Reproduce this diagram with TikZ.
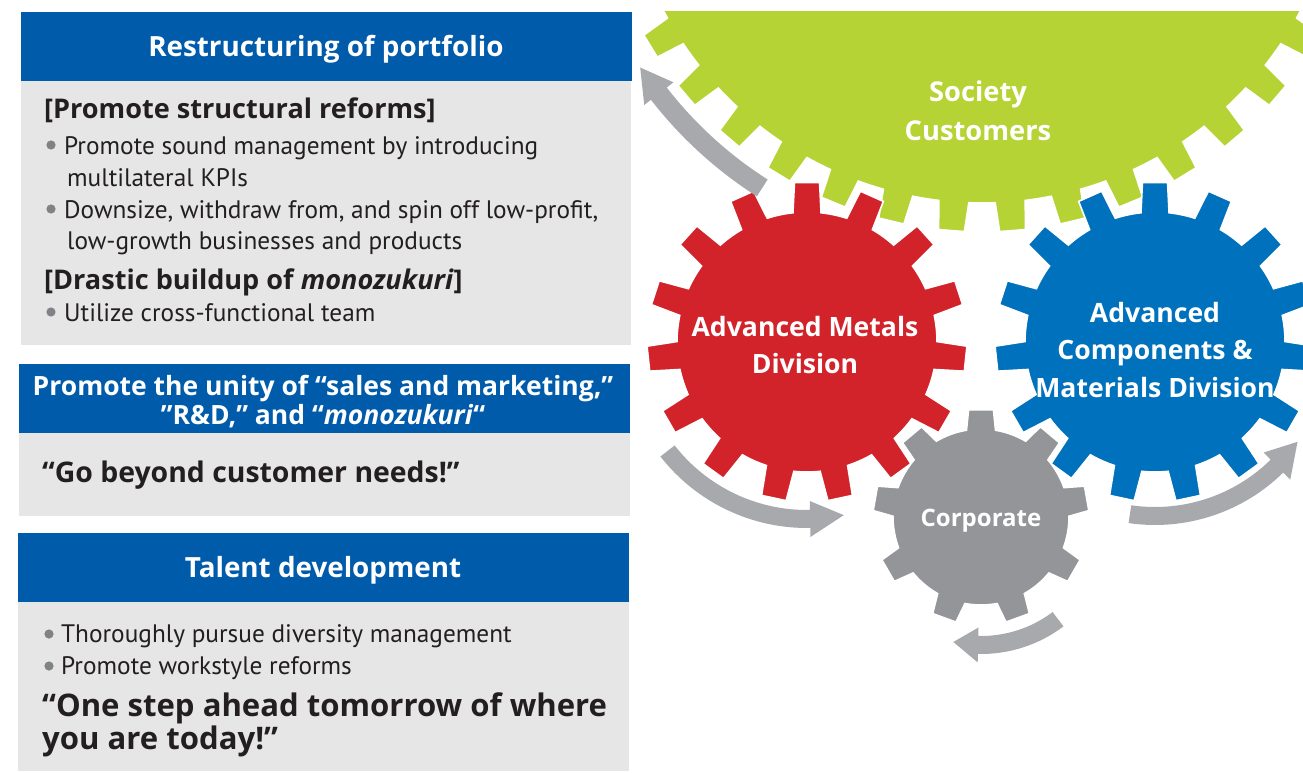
\documentclass[tikz,border=0pt]{standalone}
\usepackage{fontspec}
\setmainfont{PT Sans}
\newfontfamily\strongfont{Open Sans}

\definecolor{headblue}{HTML}{005BAA}
\definecolor{panelgray}{HTML}{E6E6E6}
\definecolor{darktext}{HTML}{231F20}
\definecolor{bulletgray}{HTML}{808285}
\definecolor{geargreen}{HTML}{B5D334}
\definecolor{gearred}{HTML}{D2232A}
\definecolor{gearblue}{HTML}{0071BC}
\definecolor{geargray}{HTML}{939598}
\definecolor{arrowgray}{HTML}{A7A9AC}

% gear: colour, cx, cy, tip radius, root radius, teeth, phase, tip half-angle, base half-angle
\newcommand{\gearshape}[9]{%
  \pgfmathsetmacro{\gpitch}{360/#6}%
  \begin{scope}[shift={(#2,#3)}]
    \fill[#1, draw=white, line width=1.6pt, line join=miter]
      ({#7-#9}:#5)
      \foreach \k [evaluate=\k as \a using {#7+(\k-1)*\gpitch}] in {1,...,#6} {
        -- ({\a-#8}:#4) -- ({\a+#8}:#4) -- ({\a+#9}:#5)
        arc[start angle={\a+#9}, end angle={\a+\gpitch-#9}, radius=#5]
      } -- cycle;
  \end{scope}}

% curved arrow round a gear: cx, cy, mid radius, band half width, tail angle, head base angle, tip angle, head half width
\newcommand{\bendarrow}[8]{%
  \begin{scope}[shift={(#1,#2)}]
    \fill[arrowgray]
      ({#5}:{#3+#4}) arc[start angle=#5, end angle=#6, radius={#3+#4}]
      -- ({#6}:{#3+#8}) -- ({#7}:{#3}) -- ({#6}:{#3-#8})
      -- ({#6}:{#3-#4}) arc[start angle=#6, end angle=#5, radius={#3-#4}]
      -- cycle;
  \end{scope}}

\tikzset{
  headtext/.style={text=white, inner sep=0pt, anchor=base, font=\strongfont\bfseries\fontsize{27.8}{30}\selectfont},
  boldline/.style={text=darktext, inner sep=0pt, anchor=base west, font=\strongfont\bfseries\fontsize{27.1}{30}\selectfont},
  bulletline/.style={text=darktext, inner sep=0pt, anchor=base west, font=\fontsize{25.3}{30}\selectfont},
  geartext/.style={text=white, inner sep=0pt, align=center, font=\strongfont\bfseries\fontsize{26.6}{37.5}\selectfont},
  bulletdot/.style={fill=bulletgray},
}

\begin{document}
\begin{tikzpicture}[x=1pt,y=1pt]
\useasboundingbox (0,0) rectangle (1303,-773);

% ---------- left panels ----------
\fill[headblue]  (21,-12)  rectangle (632,-81);
\fill[panelgray] (21,-81)  rectangle (631,-345);
\fill[headblue]  (19,-364) rectangle (630,-433);
\fill[panelgray] (19,-433) rectangle (630,-516);
\fill[headblue]  (18,-533) rectangle (629,-602);
\fill[panelgray] (18,-602) rectangle (629,-771);

\node[headtext] (h1) at (326,-57) {Restructuring of portfolio};
\node[boldline] (p1) at (44,-118) {[Promote structural reforms]};
\fill[bulletdot] (51,-145) circle (4.6);
\node[bulletline] (p2) at (64,-154) {Promote sound management by introducing};
\node[bulletline] (p3) at (67,-186) {multilateral KPIs};
\fill[bulletdot] (51,-209) circle (4.6);
\node[bulletline] (p4) at (64,-218) {Downsize, withdraw from, and spin off low-profit,};
\node[bulletline] (p5) at (67,-249) {low-growth businesses and products};
\node[boldline] (p6) at (44,-289) {[Drastic buildup of \textit{monozukuri}]};
\fill[bulletdot] (51,-312) circle (4.6);
\node[bulletline] (p7) at (64,-321) {Utilize cross-functional team};

\node[headtext, font=\strongfont\bfseries\fontsize{26.5}{30}\selectfont] (h2a) at (323,-395) {Promote the unity of “sales and marketing,”};
\node[headtext, font=\strongfont\bfseries\fontsize{26.5}{30}\selectfont] (h2b) at (323,-424) {”R\&D,” and “\textit{monozukuri}“};
\node[boldline, font=\strongfont\bfseries\fontsize{28.4}{32}\selectfont] (q1) at (42,-482) {“Go beyond customer needs!”};

\node[headtext] (h3) at (323,-577) {Talent development};
\fill[bulletdot] (49,-634) circle (4.6);
\node[bulletline] (t1) at (61,-642) {Thoroughly pursue diversity management};
\fill[bulletdot] (49,-666) circle (4.6);
\node[bulletline] (t2) at (61,-674) {Promote workstyle reforms};
\node[boldline, font=\strongfont\bfseries\fontsize{31.1}{34}\selectfont] (t3) at (42,-716) {“One step ahead tomorrow of where};
\node[boldline, font=\strongfont\bfseries\fontsize{31.1}{34}\selectfont] (t4) at (42,-749) {you are today!”};

% ---------- gears ----------
\begin{scope}
  \clip (0,-12) rectangle (1303,-773);
  \gearshape{geargreen}{982}{157}{389}{360}{40}{4.5}{1.9}{2.4}
  \gearshape{gearred}{807}{-342}{160}{130}{15}{90}{4.5}{6.2}
  \gearshape{gearblue}{1155}{-342}{160}{130}{15}{90}{4.5}{6.2}
  \gearshape{geargray}{981}{-517}{108}{88}{9}{90}{6.6}{9.5}
\end{scope}

% ---------- rotation arrows ----------
\bendarrow{982}{157}{409}{10}{237.5}{217.8}{213.3}{18.5}
\bendarrow{807}{-342}{177}{9}{218}{271}{282}{18}
\bendarrow{1155}{-342}{174}{9}{261.7}{314.5}{325}{19}
\bendarrow{981}{-517}{128}{9}{307}{268.7}{257.5}{17.5}

% ---------- gear labels ----------
\node[geartext, font=\strongfont\bfseries\fontsize{27.3}{39}\selectfont] (society) at (978,-111) {Society\\Customers};
\node[geartext] (metals) at (805,-345) {Advanced Metals\\Division};
\node[geartext] (components) at (1155,-350) {Advanced\\Components \&\\Materials Division};
\node[geartext, font=\strongfont\bfseries\fontsize{24}{26}\selectfont] (corporate) at (981,-521) {Corporate};

\end{tikzpicture}
\end{document}
